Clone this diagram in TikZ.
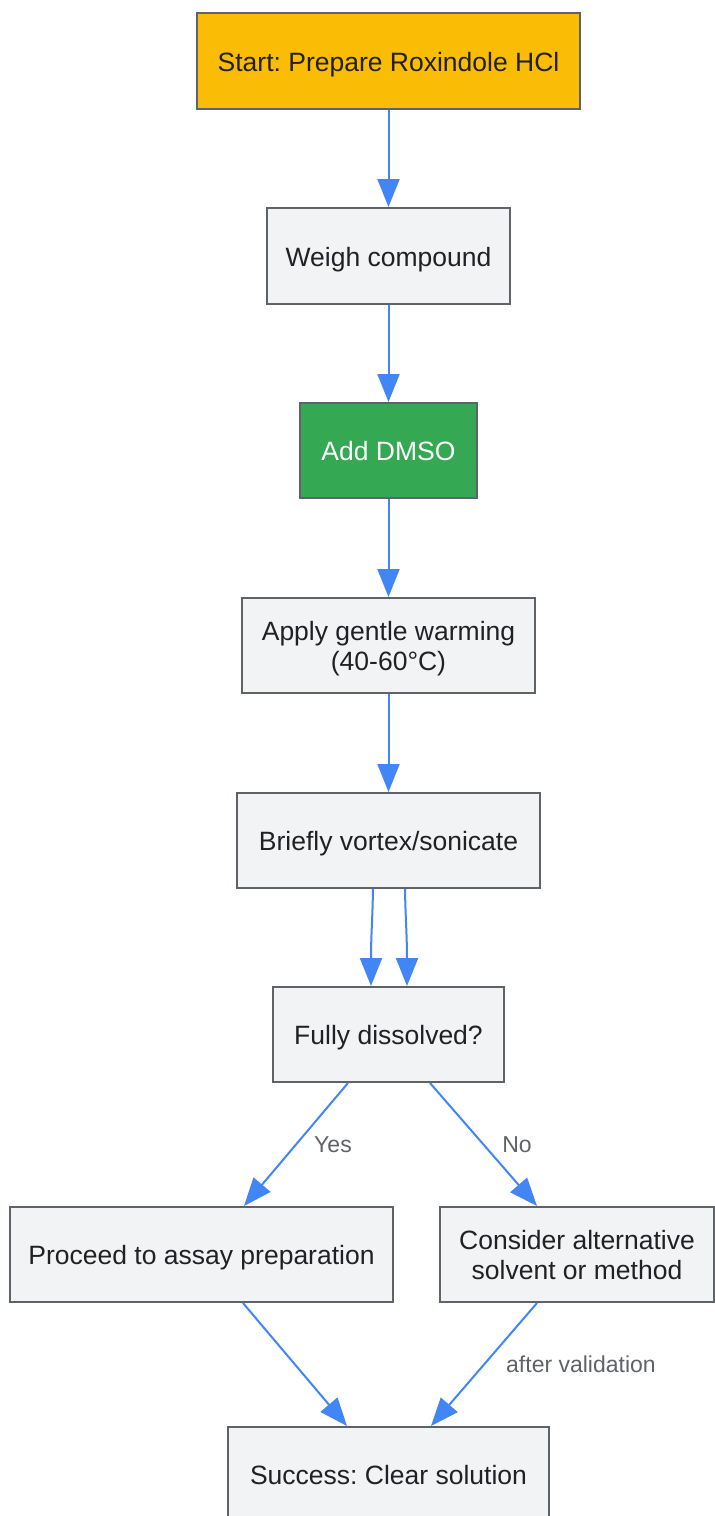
\documentclass[tikz,border=0pt]{standalone}
\usepackage{fontspec}
\setmainfont{Liberation Sans}
\frenchspacing
\usetikzlibrary{arrows.meta,calc}
\definecolor{boxfill}{HTML}{F1F3F4}
\definecolor{boxline}{HTML}{5F6368}
\definecolor{txt}{HTML}{202124}
\definecolor{startfill}{HTML}{FABC05}
\definecolor{greenfill}{HTML}{34A853}
\definecolor{arrowblue}{HTML}{4285F4}
\definecolor{lbl}{HTML}{5F6368}
\tikzset{
  stepbox/.style={draw=boxline, line width=2pt, fill=boxfill, text=txt, inner sep=0pt,
    align=center, font=\fontsize{26.5}{30}\selectfont, text height=20pt, text depth=0pt},
  twoline/.style={text height=50pt, text depth=0pt},
  flow/.style={draw=arrowblue, line width=2pt, -{Triangle[length=28pt,width=22pt]}},
  edgelabel/.style={text=lbl, font=\fontsize{23}{27}\selectfont, inner sep=0pt}
}
\begin{document}
\begin{tikzpicture}[x=1pt,y=-1pt]
\useasboundingbox (0,0) rectangle (715,1516);
\node[stepbox, fill=startfill, minimum width=383pt, minimum height=96pt] (start) at (388.5,61) {Start: Prepare Roxindole HCl};
\node[stepbox, minimum width=243pt, minimum height=96pt] (weigh) at (388.5,256) {Weigh compound};
\node[stepbox, fill=greenfill, text=white, minimum width=177pt, minimum height=95pt] (dmso) at (388.5,450.5) {Add DMSO};
\node[stepbox, twoline, minimum width=293pt, minimum height=95pt] (warm) at (388.5,645.5) {Apply gentle warming\\(40-60°C)};
\node[stepbox, minimum width=303pt, minimum height=95pt] (vortex) at (388.5,840.5) {Briefly vortex/sonicate};
\node[stepbox, minimum width=231pt, minimum height=95pt] (fully) at (388.5,1034.5) {Fully dissolved?};
\node[stepbox, minimum width=383pt, minimum height=95pt] (proceed) at (201.5,1254.5) {Proceed to assay preparation};
\node[stepbox, twoline, minimum width=274pt, minimum height=95pt] (consider) at (577,1254.5) {Consider alternative\\solvent or method};
\node[stepbox, minimum width=321pt, minimum height=95pt] (success) at (388.5,1474.5) {Success: Clear solution};

\draw[flow] (start) -- (weigh);
\draw[flow] (weigh) -- (dmso);
\draw[flow] (dmso) -- (warm);
\draw[flow] (warm) -- (vortex);
\draw[flow] ([xshift=-15.5pt]vortex.south) .. controls ([xshift=-16pt,yshift=-30pt]vortex.south) and ([xshift=-17.5pt,yshift=50pt]fully.north) .. ([xshift=-17.5pt]fully.north);
\draw[flow] ([xshift=16.5pt]vortex.south) .. controls ([xshift=17pt,yshift=-30pt]vortex.south) and ([xshift=18.5pt,yshift=50pt]fully.north) .. ([xshift=18.5pt]fully.north);
\draw[flow] ([xshift=-40.5pt]fully.south) -- node[edgelabel, midway, xshift=37pt] {Yes} ([xshift=42.5pt]proceed.north);
\draw[flow] ([xshift=41.5pt]fully.south) -- node[edgelabel, midway, xshift=33.5pt] {No} ([xshift=-40pt]consider.north);
\draw[flow] ([xshift=41.5pt]proceed.south) -- ([xshift=-41.5pt]success.north);
\draw[flow] ([xshift=-40pt]consider.south) -- node[edgelabel, midway, xshift=97pt] {after validation} ([xshift=42.5pt]success.north);
\end{tikzpicture}
\end{document}
